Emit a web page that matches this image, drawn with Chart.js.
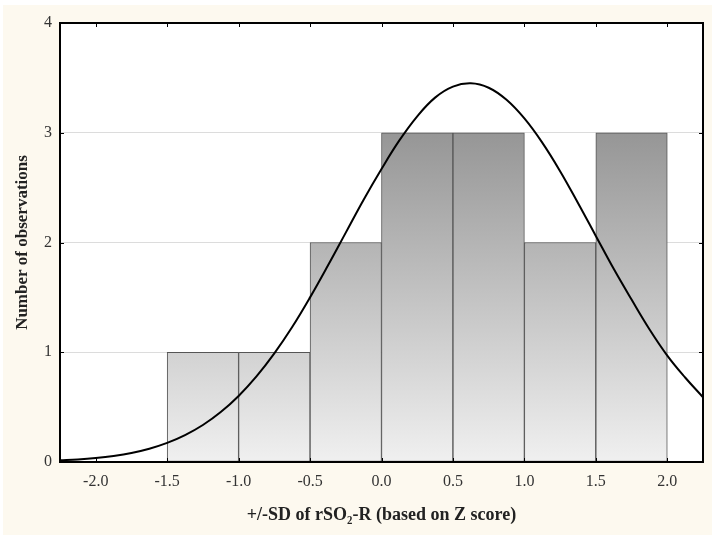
<!DOCTYPE html>
<html>
<head>
<meta charset="utf-8">
<script src="https://cdn.jsdelivr.net/npm/chart.js@4.4.1/dist/chart.umd.min.js"></script>
<style>
  html, body { margin: 0; padding: 0; background: #ffffff; }
  #wrap { position: absolute; left: 3px; top: 5px; width: 709px; height: 530px; background: #fdf9ef; }
  #myChart { position: absolute; left: 0; top: 0; }
</style>
</head>
<body>
<div id="wrap"></div>
<canvas id="myChart" width="717" height="540"></canvas>
<script>
// histogram bins (centres) and counts
var binCenters = [-1.25, -0.75, -0.25, 0.25, 0.75, 1.25, 1.75];
var counts = [1, 1, 2, 3, 3, 2, 3];

// fitted normal curve
var curveX = [-2.25, -2.125, -2.0, -1.875, -1.75, -1.625, -1.5, -1.375, -1.25, -1.125, -1.0, -0.875,
              -0.75, -0.625, -0.5, -0.375, -0.25, -0.125, 0.0, 0.125, 0.25, 0.375, 0.5, 0.625,
              0.75, 0.875, 1.0, 1.125, 1.25, 1.375, 1.5, 1.625, 1.75, 1.875, 2.0, 2.125, 2.25];
var curveY = [0.015, 0.023, 0.036, 0.055, 0.082, 0.121, 0.174, 0.245, 0.337, 0.455, 0.602, 0.78,
              0.99, 1.23, 1.5, 1.79, 2.09, 2.39, 2.67, 2.93, 3.15, 3.32, 3.42, 3.45,
              3.41, 3.30, 3.13, 2.91, 2.65, 2.36, 2.06, 1.76, 1.48, 1.21, 0.97, 0.77, 0.59];

var xTicks = [-2.0, -1.5, -1.0, -0.5, 0.0, 0.5, 1.0, 1.5, 2.0];
var yTicks = [0, 1, 2, 3, 4];

var serif = "'Liberation Serif', 'Times New Roman', serif";

// frame + small inside tick marks
var framePlugin = {
    id: 'frame',
    afterDraw: function(chart) {
        var ctx = chart.ctx;
        var a = chart.chartArea;
        var xs = chart.scales.x, ys = chart.scales.y;
        ctx.save();
        ctx.strokeStyle = '#000';
        ctx.lineWidth = 1;
        xs.ticks.forEach(function(t) {
            var px = Math.round(xs.getPixelForValue(t.value)) + 0.5;
            ctx.beginPath();
            ctx.moveTo(px, a.top); ctx.lineTo(px, a.top + 4);
            ctx.moveTo(px, a.bottom); ctx.lineTo(px, a.bottom - 4);
            ctx.stroke();
        });
        ys.ticks.forEach(function(t) {
            var py = Math.round(ys.getPixelForValue(t.value)) + 0.5;
            ctx.beginPath();
            ctx.moveTo(a.left, py); ctx.lineTo(a.left + 4, py);
            ctx.moveTo(a.right, py); ctx.lineTo(a.right - 4, py);
            ctx.stroke();
        });
        ctx.lineWidth = 2;
        ctx.strokeRect(a.left, a.top, a.right - a.left, a.bottom - a.top);
        ctx.restore();
    }
};

var whiteBg = {
    id: 'whiteBg',
    beforeDraw: function(chart) {
        var a = chart.chartArea;
        chart.ctx.save();
        chart.ctx.fillStyle = '#ffffff';
        chart.ctx.fillRect(a.left, a.top, a.right - a.left, a.bottom - a.top);
        chart.ctx.restore();
    }
};

function barFill(context) {
    var chart = context.chart;
    if (!chart.chartArea) return '#bbbbbb';
    var ys = chart.scales.y;
    var g = chart.ctx.createLinearGradient(0, ys.getPixelForValue(3), 0, ys.getPixelForValue(0));
    g.addColorStop(0, '#969696');
    g.addColorStop(1, '#f0f0f0');
    return g;
}

const ctx = document.getElementById('myChart').getContext('2d');
const myChart = new Chart(ctx, {
    type: 'bar',
    data: {
        datasets: [
            {
                type: 'line',
                label: 'Normal',
                data: curveX.map(function(x, i) { return { x: x, y: curveY[i] }; }),
                borderColor: '#000',
                borderWidth: 2,
                pointRadius: 0,
                tension: 0.4,
                fill: false,
                order: 0
            },
            {
                type: 'bar',
                label: 'Observations',
                data: binCenters.map(function(x, i) { return { x: x, y: counts[i] }; }),
                backgroundColor: barFill,
                borderColor: '#555555',
                borderWidth: 1,
                borderSkipped: false,
                barPercentage: 1.0,
                categoryPercentage: 1.0,
                order: 1
            }
        ]
    },
    plugins: [whiteBg, framePlugin],
    options: {
        responsive: false,
        animation: false,
        layout: { padding: { left: 0, top: 23, right: 14, bottom: 0 } },
        plugins: {
            legend: { display: false },
            tooltip: { enabled: false }
        },
        scales: {
            x: {
                type: 'linear',
                min: -2.25,
                max: 2.25,
                offset: false,
                border: { display: false },
                grid: { display: false, drawTicks: false },
                afterBuildTicks: function(scale) {
                    scale.ticks = xTicks.map(function(v) { return { value: v }; });
                },
                afterFit: function(scale) { scale.height = 78; },
                ticks: {
                    padding: 10,
                    color: '#333',
                    font: { family: serif, size: 16 },
                    maxRotation: 0,
                    callback: function(v) { return Number(v).toFixed(1); }
                },
                title: {
                    display: true,
                    text: '+/-SD of rSO\u2082-R (based on Z score)',
                    color: '#222',
                    font: { family: serif, size: 18, weight: 'bold' },
                    padding: { top: 8, bottom: 14 }
                }
            },
            y: {
                min: 0,
                max: 4,
                border: { display: false },
                afterBuildTicks: function(scale) {
                    scale.ticks = yTicks.map(function(v) { return { value: v }; });
                },
                afterFit: function(scale) { scale.width = 60; },
                grid: {
                    drawTicks: false,
                    color: function(c) {
                        return (c.tick && c.tick.value > 0 && c.tick.value < 4) ? '#dcdcdc' : 'rgba(0,0,0,0)';
                    }
                },
                ticks: {
                    padding: 8,
                    color: '#333',
                    font: { family: serif, size: 16 }
                },
                title: {
                    display: true,
                    text: 'Number of observations',
                    color: '#222',
                    font: { family: serif, size: 17, weight: 'bold' },
                    padding: { bottom: 0, top: 12 }
                }
            }
        }
    }
});
</script>
</body>
</html>
